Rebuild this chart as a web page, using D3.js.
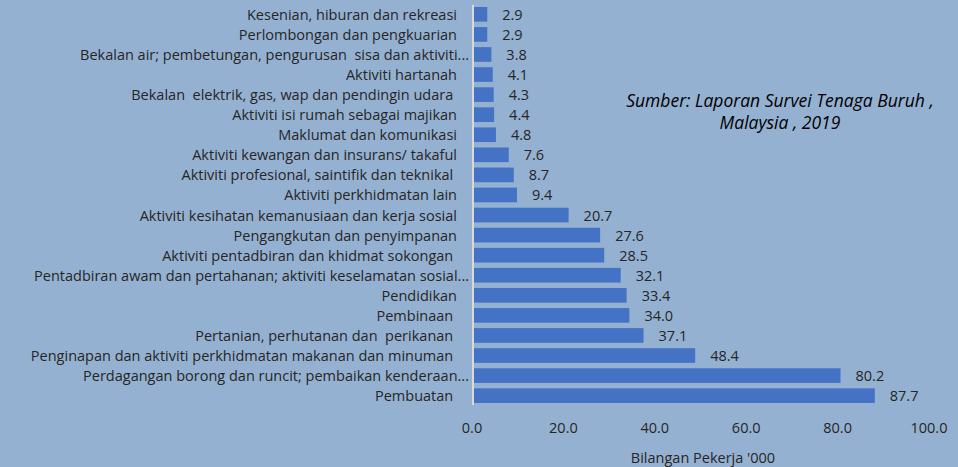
<!DOCTYPE html>
<html>
<head>
<meta charset="utf-8">
<script src="https://cdn.jsdelivr.net/npm/d3@7"></script>
<style>
  html, body { margin: 0; padding: 0; background: #95b1d1; }
  svg { display: block; font-family: "Open Sans", "Noto Sans", sans-serif; }
  text { white-space: pre; }
</style>
</head>
<body>
<svg id="chart" width="958" height="467"></svg>
<script>
// categories, top to bottom as in the picture
const categories = [
  "Kesenian, hiburan dan rekreasi",
  "Perlombongan dan pengkuarian",
  "Bekalan air; pembetungan, pengurusan  sisa dan aktiviti...",
  "Aktiviti hartanah",
  "Bekalan  elektrik, gas, wap dan pendingin udara ",
  "Aktiviti isi rumah sebagai majikan",
  "Maklumat dan komunikasi",
  "Aktiviti kewangan dan insurans/ takaful",
  "Aktiviti profesional, saintifik dan teknikal ",
  "Aktiviti perkhidmatan lain",
  "Aktiviti kesihatan kemanusiaan dan kerja sosial",
  "Pengangkutan dan penyimpanan",
  "Aktiviti pentadbiran dan khidmat sokongan ",
  "Pentadbiran awam dan pertahanan; aktiviti keselamatan sosial...",
  "Pendidikan",
  "Pembinaan ",
  "Pertanian, perhutanan dan  perikanan ",
  "Penginapan dan aktiviti perkhidmatan makanan dan minuman ",
  "Perdagangan borong dan runcit; pembaikan kenderaan...",
  "Pembuatan "
];
const workers = [2.9, 2.9, 3.8, 4.1, 4.3, 4.4, 4.8, 7.6, 8.7, 9.4, 20.7, 27.6, 28.5, 32.1, 33.4, 34.0, 37.1, 48.4, 80.2, 87.7];
const xTicks = [0, 20, 40, 60, 80, 100];
const axisTitle = "Bilangan Pekerja '000";
const sourceLines = ["Sumber: Laporan Survei Tenaga Buruh ,", "Malaysia , 2019"];

const svg = d3.select("#chart");
const textColor = "#262626";
const fs = 14.5;

const x = d3.scaleLinear().domain([0, 100]).range([474, 931]);
const y = d3.scaleBand().domain(d3.range(categories.length)).range([5, 405]).paddingInner(0.27).paddingOuter(0.1);

// bars
svg.append("g")
  .selectAll("rect")
  .data(workers)
  .join("rect")
  .attr("x", x(0))
  .attr("y", (d, i) => y(i))
  .attr("width", d => x(d) - x(0))
  .attr("height", y.bandwidth())
  .attr("fill", "#4472c4");

// vertical axis line
svg.append("line")
  .attr("x1", x(0) - 1).attr("x2", x(0) - 1)
  .attr("y1", 5).attr("y2", 405)
  .attr("stroke", "#d9d9d9")
  .attr("stroke-width", 2);

// category labels
svg.append("g")
  .selectAll("text")
  .data(categories)
  .join("text")
  .attr("x", d => d.endsWith("...") ? 469 : 457)
  .attr("y", (d, i) => y(i) + y.bandwidth() / 2)
  .attr("text-anchor", "end")
  .attr("dominant-baseline", "central")
  .attr("font-size", fs)
  .attr("fill", textColor)
  .text(d => d);

// value labels
svg.append("g")
  .selectAll("text")
  .data(workers)
  .join("text")
  .attr("x", d => x(d) + 15)
  .attr("y", (d, i) => y(i) + y.bandwidth() / 2)
  .attr("dominant-baseline", "central")
  .attr("font-size", fs)
  .attr("fill", textColor)
  .text(d => d.toFixed(1));

// x tick labels
svg.append("g")
  .selectAll("text")
  .data(xTicks)
  .join("text")
  .attr("x", d => x(d) - 2)
  .attr("y", 427)
  .attr("text-anchor", "middle")
  .attr("dominant-baseline", "central")
  .attr("font-size", fs)
  .attr("fill", textColor)
  .text(d => d.toFixed(1));

// axis title
svg.append("text")
  .attr("x", 703)
  .attr("y", 457)
  .attr("text-anchor", "middle")
  .attr("dominant-baseline", "central")
  .attr("font-size", fs)
  .attr("fill", textColor)
  .text(axisTitle);

// source note
svg.append("g")
  .selectAll("text")
  .data(sourceLines)
  .join("text")
  .attr("x", 780)
  .attr("y", (d, i) => 100 + i * 22)
  .attr("text-anchor", "middle")
  .attr("dominant-baseline", "central")
  .attr("font-size", 17.5)
  .attr("font-style", "italic")
  .attr("fill", "#000")
  .text(d => d);
</script>
</body>
</html>
